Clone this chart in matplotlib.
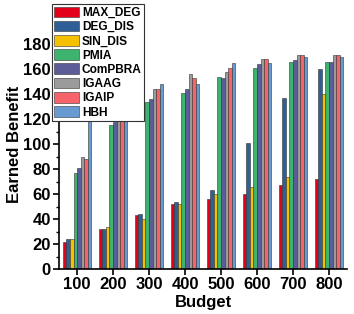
import numpy as np
import matplotlib
matplotlib.use('Agg')
import matplotlib.pyplot as plt

#------------------------------------------------------------#
# data                                                       #
#------------------------------------------------------------#

budgets = ['100', '200', '300', '400', '500', '600', '700', '800']
methods = ['MAX_DEG', 'DEG_DIS', 'SIN_DIS', 'PMIA', 'ComPBRA', 'IGAAG', 'IGAIP', 'HBH']

max_deg = [22, 32, 43, 52, 56, 60, 67, 72]
deg_dis = [24, 32, 44, 54, 63, 101, 137, 160]
sin_dis = [24, 34, 40, 52, 60, 66, 74, 140]
pmia    = [77, 115, 134, 141, 154, 161, 166, 166]
compbra = [81, 118, 136, 144, 153, 164, 167, 166]
igaag   = [90, 120, 144, 156, 158, 168, 171, 171]
igaip   = [88, 120, 144, 153, 161, 168, 171, 171]
hbh     = [125, 122, 148, 148, 165, 165, 170, 170]

colors = ['#e3001b', '#2f5f96', '#f5c000', '#3cb46e',
          '#5c5c98', '#9b9b9b', '#f7636a', '#6a9ad2']

#------------------------------------------------------------#
# plot                                                       #
#------------------------------------------------------------#

plt.rcParams['font.family'] = ['Liberation Sans', 'DejaVu Sans']
plt.rcParams['font.weight'] = 'bold'

fig = plt.figure(figsize=(3.54, 3.14), dpi=100)
ax = fig.add_axes([0.167, 0.143, 0.813, 0.796])

series = [max_deg, deg_dis, sin_dis, pmia, compbra, igaag, igaip, hbh]
x = np.arange(len(budgets))
w = 0.1
for i, (vals, name) in enumerate(zip(series, methods)):
    ax.bar(x + (i - 3.5) * w, vals, w, color=colors[i], label=name,
           edgecolor='#333333', linewidth=0.4)

ax.set_xlim(-0.5, 7.5)
ax.set_ylim(0, 200)
ax.set_yticks(np.arange(0, 181, 20))
ax.set_yticks(np.arange(10, 191, 20), minor=True)
ax.set_xticks(x)
ax.set_xticklabels(budgets)
ax.tick_params(axis='both', labelsize=12, width=1.2, length=4, direction='out', pad=2)
ax.tick_params(axis='y', which='minor', length=2, width=1)
for lbl in ax.get_xticklabels() + ax.get_yticklabels():
    lbl.set_fontweight('bold')

ax.set_xlabel('Budget', fontsize=12, fontweight='bold', labelpad=2)
ax.set_ylabel('Earned Benefit', fontsize=12, fontweight='bold', labelpad=1)

for pos in ['right', 'top']:
    ax.spines[pos].set_visible(False)
for pos in ['left', 'bottom']:
    ax.spines[pos].set_linewidth(1.2)

leg = ax.legend(loc='upper left', bbox_to_anchor=(-0.025, 1.06), fontsize=8.6,
                frameon=True, fancybox=False, edgecolor='#333333',
                handlelength=2.05, handleheight=1.0, handletextpad=0.25,
                labelspacing=0.15, borderpad=0.2, borderaxespad=0)
leg.get_frame().set_linewidth(0.8)
leg.get_frame().set_alpha(1)
for t in leg.get_texts():
    t.set_fontweight('bold')

fig.savefig('out.png', dpi=100)
